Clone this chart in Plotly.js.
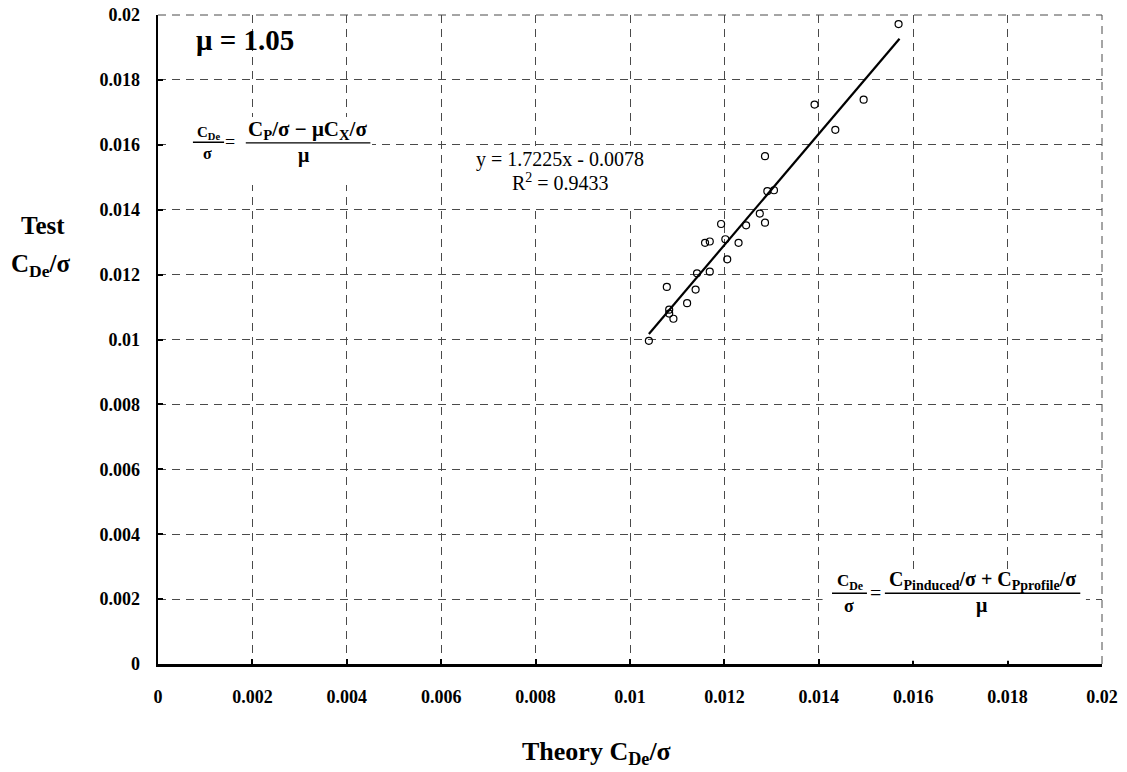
<!DOCTYPE html>
<html>
<head>
<meta charset="utf-8">
<script src="https://cdn.plot.ly/plotly-3.0.1.min.js"></script>
<style>html,body{margin:0;padding:0;background:#fff;}#chart{width:1127px;height:772px;}</style>
</head>
<body>
<div id="chart"></div>
<script>
// ---- data ----
const theoryCDe = [0.01040, 0.01078, 0.01083, 0.01083, 0.01092, 0.01121, 0.01139, 0.01142, 0.01169,
  0.01159, 0.01169, 0.01193, 0.01202, 0.01206, 0.01230, 0.01246, 0.01275, 0.01286, 0.01286,
  0.01291, 0.01305, 0.01391, 0.01435, 0.01495, 0.01569];
const testCDe = [0.00996, 0.01162, 0.01092, 0.01080, 0.01064, 0.01112, 0.01154, 0.01204, 0.01209,
  0.01298, 0.01302, 0.01356, 0.01309, 0.01247, 0.01298, 0.01352, 0.01388, 0.01360, 0.01565,
  0.01457, 0.01460, 0.01724, 0.01646, 0.01739, 0.01972];
const trendX = [0.01040, 0.01571];
const trendY = [0.01017, 0.01927];
const tickVals = [0, 0.002, 0.004, 0.006, 0.008, 0.01, 0.012, 0.014, 0.016, 0.018, 0.02];
const tickText = ["0", "0.002", "0.004", "0.006", "0.008", "0.01", "0.012", "0.014", "0.016", "0.018", "0.02"];
const trendLabel = ["y = 1.7225x - 0.0078", "R<sup>2</sup> = 0.9433"];
const muLabel = "μ = 1.05";

const SERIF = "Liberation Serif, Times New Roman, serif";
const bold = (s) => ({family: SERIF, size: s, color: "#000", weight: "bold"});
const plain = (s) => ({family: SERIF, size: s, color: "#000"});
const GRID_DASH = "8px,6px";

const traces = [
  {x: theoryCDe, y: testCDe, type: "scatter", mode: "markers",
   marker: {symbol: "circle-open", size: 7, color: "#000", line: {width: 1.2, color: "#000"}},
   hoverinfo: "x+y", showlegend: false},
  {x: trendX, y: trendY, type: "scatter", mode: "lines",
   line: {color: "#000", width: 2.2}, showlegend: false, hoverinfo: "skip"}
];

const axisCommon = {
  range: [0, 0.02], tickmode: "array", tickvals: tickVals, ticktext: tickText,
  showgrid: true, gridcolor: "#4a4a4a", griddash: GRID_DASH, gridwidth: 1,
  zeroline: false, showline: true, linecolor: "#000", linewidth: 2.5,
  ticks: "inside", ticklen: 5, tickwidth: 2, tickcolor: "#000",
  tickfont: bold(18), mirror: false, fixedrange: true
};

const line = (x0, x1, y) => ({type: "line", xref: "paper", yref: "paper", x0: x0, x1: x1, y0: y, y1: y,
  line: {color: "#000", width: 1.4}, layer: "above"});
const box = (x0, x1, y0, y1) => ({type: "rect", xref: "paper", yref: "paper", x0: x0, x1: x1, y0: y0, y1: y1,
  fillcolor: "#fff", line: {width: 0}, layer: "above"});
const ann = (text, x, y, font) => ({text: text, x: x, y: y, xref: "paper", yref: "paper",
  showarrow: false, xanchor: "center", yanchor: "middle", font: font});

const layout = {
  width: 1127, height: 772,
  margin: {l: 158, r: 25, t: 15, b: 108},
  paper_bgcolor: "#fff", plot_bgcolor: "#fff",
  showlegend: false,
  xaxis: Object.assign({}, axisCommon, {ticklabelstandoff: 15}),
  yaxis: Object.assign({}, axisCommon, {ticklabelstandoff: 12}),
  shapes: [
    // top and right dashed grid borders
    {type: "line", xref: "paper", yref: "paper", x0: 0, x1: 1, y0: 1, y1: 1, line: {color: "#4a4a4a", width: 1, dash: GRID_DASH}, layer: "below"},
    {type: "line", xref: "paper", yref: "paper", x0: 1, x1: 1, y0: 0, y1: 1, line: {color: "#4a4a4a", width: 1, dash: GRID_DASH}, layer: "below"},
    // white text boxes
    box(0.0148, 0.2267, 0.738, 0.843),
    box(0.334, 0.511, 0.703, 0.798),
    box(0.704, 0.983, 0.005, 0.145),
    // fraction bars
    line(0.037, 0.070, 0.804),
    line(0.093, 0.225, 0.803),
    line(0.714, 0.751, 0.109),
    line(0.770, 0.977, 0.109)
  ],
  annotations: [
    ann(muLabel, 0.092, 0.961, bold(29)),
    ann(trendLabel[0], 0.426, 0.777, plain(20)),
    ann(trendLabel[1], 0.426, 0.743, plain(20)),
    // left formula
    ann("C<sub>De</sub>", 0.053, 0.818, bold(15)),
    ann("σ", 0.052, 0.787, bold(16)),
    ann("=", 0.076, 0.804, plain(18)),
    ann("C<sub>P</sub>/σ − μC<sub>X</sub>/σ", 0.158, 0.823, bold(21)),
    ann("μ", 0.155, 0.784, bold(20)),
    // bottom-right formula
    ann("C<sub>De</sub>", 0.733, 0.127, bold(17)),
    ann("σ", 0.732, 0.090, bold(18)),
    ann("=", 0.760, 0.109, plain(20)),
    ann("C<sub>Pinduced</sub>/σ + C<sub>Pprofile</sub>/σ", 0.873, 0.129, bold(20)),
    ann("μ", 0.873, 0.090, bold(20)),
    // axis titles
    ann("Test", -0.122, 0.675, bold(25)),
    ann("C<sub>De</sub>/σ", -0.125, 0.614, bold(25)),
    ann("Theory C<sub>De</sub>/σ", 0.465, -0.137, bold(26))
  ]
};

Plotly.newPlot("chart", traces, layout, {displayModeBar: false, staticPlot: true});
</script>
</body>
</html>
